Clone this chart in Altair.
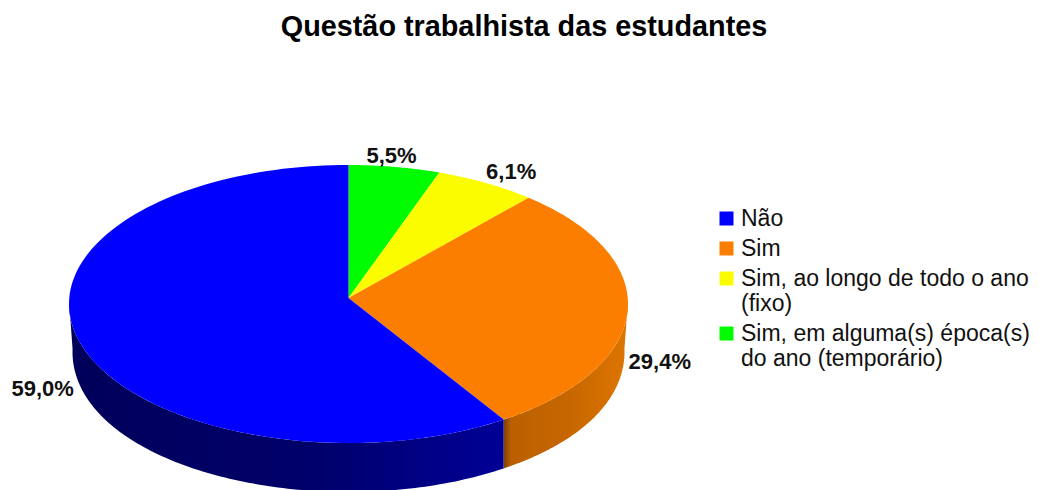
import math
import altair as alt
import pandas as pd

TITLE = "Questão trabalhista das estudantes"
CATEGORIES = ["Não", "Sim", "Sim, ao longo de todo o ano (fixo)", "Sim, em alguma(s) época(s) do ano (temporário)"]
VALUES = [59.0, 29.4, 6.1, 5.5]
LABELS = ["59,0%", "29,4%", "6,1%", "5,5%"]
COLORS = ["#0000ff", "#fb7e00", "#fcfc00", "#00fc00"]
LEGEND_LINES = {
    CATEGORIES[2]: ["Sim, ao longo de todo o ano", "(fixo)"],
    CATEGORIES[3]: ["Sim, em alguma(s) época(s)", "do ano (temporário)"],
}

# page geometry of the drawn pie (pixel-like layout units)
APEX = (348.5, 298.0)
CY, RX, RY = 304.0, 279.5, 139.0
B_CY, B_RX, B_RY = 352.0, 276.0, 140.0
LABEL_NUDGE = [(-34.5, 52), (32, 53), (25, -11), (-3, -11)]
FONT = "Liberation Sans"


def rim(theta_deg):
    """Point of the top ellipse on the ray from the apex at a pie angle (clockwise from 12 o'clock)."""
    t = math.radians(theta_deg)
    dx, dy = RX * math.sin(t), -RY * math.cos(t)
    off = APEX[1] - CY
    a = (dx / RX) ** 2 + (dy / RY) ** 2
    b = 2 * dy * off / RY ** 2
    c = (off / RY) ** 2 - 1
    s = (-b + math.sqrt(b * b - 4 * a * c)) / (2 * a)
    return APEX[0] + s * dx, APEX[1] + s * dy


def lower(p):
    u = (p[0] - APEX[0]) / RX
    shrink = 1 - (1 - B_RX / RX) * abs(u) ** 6
    return APEX[0] + (p[0] - APEX[0]) * shrink, B_CY + (p[1] - CY) * B_RY / RY


def span(a, b, n=120):
    return [a + (b - a) * i / n for i in range(n + 1)]


# Slices run clockwise from 12 o'clock in reverse category order, as drawn
order = [3, 2, 1, 0]
start = 0.0
angles = {}
for k in order:
    angles[k] = (start, start + VALUES[k] * 3.6)
    start = angles[k][1]

top_rows = []
for k in order:
    a, b = angles[k]
    pts = [APEX] + [rim(t) for t in span(a, b)] + [APEX]
    for i, (x, y) in enumerate(pts):
        top_rows.append({"cat": CATEGORIES[k], "x": x, "y": y, "i": i})
top_df = pd.DataFrame(top_rows)


def wall(a, b):
    up = [rim(t) for t in span(a, b)]
    dn = [lower(p) for p in reversed(up)]
    return pd.DataFrame([{"x": p[0], "y": p[1], "i": i} for i, p in enumerate(up + dn)])


label_rows = []
for k in order:
    a, b = angles[k]
    x, y = rim((a + b) / 2)
    label_rows.append({"x": x + LABEL_NUDGE[k][0], "y": y + LABEL_NUDGE[k][1], "text": LABELS[k]})
label_df = pd.DataFrame(label_rows)

X = alt.X("x:Q", axis=None, scale=alt.Scale(domain=[8, 1031]))
Y = alt.Y("y:Q", axis=None, scale=alt.Scale(domain=[490, 8]))

label_expr = " : ".join(
    [f"datum.label == {repr(k)} ? {repr(v)}" for k, v in LEGEND_LINES.items()] + ["datum.label"]
)


def wall_layer(df, stops):
    grad = alt.Gradient(
        gradient="linear", x1=0, x2=1, y1=0, y2=0,
        stops=[alt.GradientStop(offset=o, color=c) for o, c in stops],
    )
    return alt.Chart(df).mark_line(fill=grad, strokeWidth=0, clip=True).encode(x=X, y=Y, order="i:Q")


orange_wall = wall_layer(
    wall(91.2, angles[1][1]),
    [(0, "#7a4000"), (0.06, "#bb6000"), (0.5, "#c66600"), (1, "#dd7500")],
)
blue_wall = wall_layer(
    wall(angles[0][0], 268.8),
    [(0, "#00005a"), (0.55, "#00006a"), (1, "#000096")],
)

tops = alt.Chart(top_df).mark_line(filled=True, strokeWidth=0, clip=True).encode(
    x=X,
    y=Y,
    order="i:Q",
    detail="cat:N",
    color=alt.Color(
        "cat:N",
        scale=alt.Scale(domain=CATEGORIES, range=COLORS),
        legend=alt.Legend(
            title=None,
            orient="none",
            legendX=707,
            legendY=199,
            symbolType="square",
            symbolSize=196,
            symbolStrokeWidth=0,
            labelFont=FONT,
            labelFontSize=23,
            labelColor="#111111",
            labelLimit=0,
            labelExpr=label_expr,
            labelOffset=3,
            rowPadding=6,
        ),
    ),
)

labels = alt.Chart(label_df).mark_text(
    font=FONT, fontSize=22, fontWeight="bold", color="#111111", align="center", baseline="middle"
).encode(x=X, y=Y, text="text:N")

chart = (
    alt.layer(orange_wall, blue_wall, tops, labels)
    .properties(
        width=1023,
        height=482,
        padding=0,
        autosize=alt.AutoSizeParams(type="none"),
        title=alt.TitleParams(
            TITLE, font=FONT, fontSize=28.8, fontWeight="bold", color="#000000",
            anchor="middle", dx=4.5, dy=38,
        ),
    )
    .configure_view(stroke=None)
)

chart.save("out.html", embed_options={"renderer": "svg", "actions": False})
